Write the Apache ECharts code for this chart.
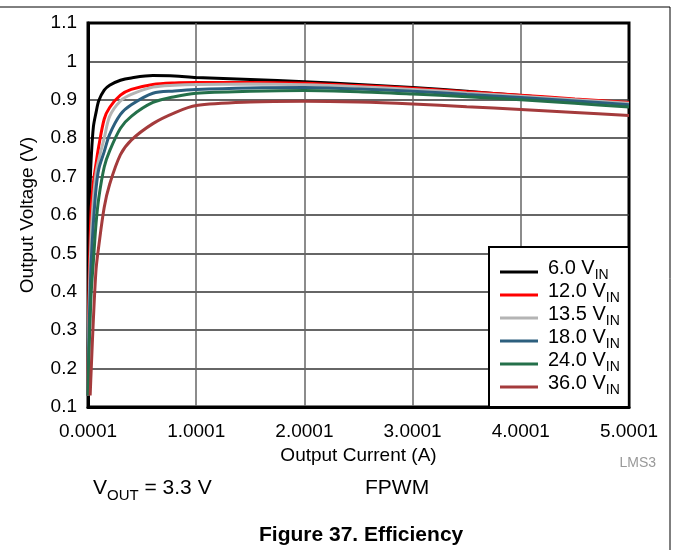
<!DOCTYPE html>
<html>
<head>
<meta charset="utf-8">
<script src="https://cdn.jsdelivr.net/npm/echarts@6/dist/echarts.min.js"></script>
<style>
  html, body { margin: 0; padding: 0; background: #fff; }
  #chart { width: 673px; height: 557px; }
</style>
</head>
<body>
<div id="chart"></div>
<script>
// Output current (A)
const currents = [0.0001, 0.005, 0.01, 0.02, 0.03, 0.05, 0.075, 0.1, 0.15, 0.2, 0.3, 0.4, 0.6, 0.8, 1.0, 1.5, 2.0, 2.5, 3.0, 3.5, 4.0, 4.5, 5.0];
// Series names (input voltage)
const seriesNames = ['6.0', '12.0', '13.5', '18.0', '24.0', '36.0'];
// Output values per input voltage
const vin6_0  = [0.13, 0.40, 0.55, 0.68, 0.75, 0.83, 0.868, 0.898, 0.925, 0.938, 0.951, 0.957, 0.963, 0.962, 0.958, 0.953, 0.947, 0.940, 0.932, 0.922, 0.911, 0.900, 0.889];
const vin12_0 = [0.13, 0.30, 0.42, 0.54, 0.62, 0.685, 0.735, 0.78, 0.85, 0.88, 0.912, 0.927, 0.940, 0.944, 0.945, 0.945, 0.943, 0.937, 0.930, 0.921, 0.912, 0.902, 0.893];
const vin13_5 = [0.13, 0.27, 0.36, 0.47, 0.55, 0.64, 0.71, 0.745, 0.80, 0.857, 0.897, 0.914, 0.933, 0.938, 0.940, 0.941, 0.939, 0.934, 0.927, 0.918, 0.909, 0.900, 0.891];
const vin18_0 = [0.13, 0.22, 0.30, 0.40, 0.48, 0.58, 0.67, 0.72, 0.765, 0.81, 0.862, 0.887, 0.917, 0.923, 0.927, 0.931, 0.932, 0.928, 0.922, 0.914, 0.906, 0.897, 0.887];
const vin24_0 = [0.13, 0.19, 0.25, 0.33, 0.40, 0.48, 0.58, 0.645, 0.725, 0.767, 0.826, 0.857, 0.893, 0.908, 0.917, 0.922, 0.924, 0.921, 0.915, 0.908, 0.900, 0.891, 0.881];
const vin36_0 = [null, null, null, 0.13, 0.20, 0.33, 0.46, 0.52, 0.62, 0.68, 0.757, 0.795, 0.838, 0.866, 0.885, 0.894, 0.896, 0.894, 0.889, 0.882, 0.875, 0.867, 0.859];
// Tick labels
const xTickLabels = ['0.0001', '1.0001', '2.0001', '3.0001', '4.0001', '5.0001'];
const yTickLabels = ['0.1', '0.2', '0.3', '0.4', '0.5', '0.6', '0.7', '0.8', '0.9', '1', '1.1'];

const seriesValues = [vin6_0, vin12_0, vin13_5, vin18_0, vin24_0, vin36_0];
const colors = ['#000000', '#ff0000', '#b4b4b4', '#2c5f7e', '#24704a', '#a43b3c'];
const FONT = '"Liberation Sans", Arial, sans-serif';
const FS = 19;

const chart = echarts.init(document.getElementById('chart'), null, { renderer: 'canvas' });

const series = seriesNames.map((name, i) => ({
  name: name,
  type: 'line',
  data: currents.map((c, j) => [c, seriesValues[i][j]]),
  showSymbol: false,
  smooth: 0.3,
  connectNulls: false,
  lineStyle: { color: colors[i], width: 3 },
  itemStyle: { color: colors[i] },
  z: 3
}));

function subRich(big, small) {
  return {
    g: { width: 5 },
    n: { fontSize: big, lineHeight: 16, padding: [4, 0, 4, 0], verticalAlign: 'bottom', fill: '#000', color: '#000', fontFamily: FONT },
    s: { fontSize: small, lineHeight: 12, verticalAlign: 'bottom', fill: '#000', color: '#000', fontFamily: FONT }
  };
}

const option = {
  animation: false,
  backgroundColor: '#fff',
  textStyle: { fontFamily: FONT },
  grid: {
    left: 88, right: 44, top: 23, bottom: 150,
    show: true, borderColor: '#000', borderWidth: 3, backgroundColor: 'transparent'
  },
  xAxis: {
    type: 'value', min: 0, max: 5, interval: 1,
    name: 'Output Current (A)', nameLocation: 'middle', nameGap: 33,
    nameTextStyle: { fontSize: FS, color: '#000', fontFamily: FONT },
    axisLine: { show: true, lineStyle: { color: '#000', width: 3 } },
    axisTick: { show: false },
    axisLabel: {
      fontSize: FS, color: '#000', margin: 15, fontFamily: FONT,
      formatter: (v) => xTickLabels[Math.round(v)]
    },
    splitLine: { show: true, showMinLine: false, showMaxLine: false, lineStyle: { color: '#666', width: 1.5 } }
  },
  yAxis: {
    type: 'value', min: 0.1, max: 1.1, interval: 0.1,
    name: 'Output Voltage (V)', nameLocation: 'middle', nameGap: 51,
    nameTextStyle: { fontSize: FS, color: '#000', fontFamily: FONT },
    axisLine: { show: true, lineStyle: { color: '#000', width: 3 } },
    axisTick: { show: false },
    axisLabel: {
      fontSize: FS, color: '#000', margin: 11, fontFamily: FONT,
      formatter: (v) => yTickLabels[Math.round(v * 10) - 1]
    },
    splitLine: { show: true, showMinLine: false, showMaxLine: false, lineStyle: { color: '#333', width: 1.5 } }
  },
  legend: {
    data: seriesNames,
    orient: 'vertical',
    left: 489, top: 247,
    padding: [7, 9, 10, 11],
    itemGap: -5,
    itemWidth: 38, itemHeight: 3,
    icon: 'rect',
    backgroundColor: '#fff',
    borderColor: '#000', borderWidth: 2,
    borderRadius: 0,
    formatter: (name) => '{g|}{n|' + name + ' V}{s|IN}',
    textStyle: {
      fontFamily: FONT, color: '#000', fontSize: 20, lineHeight: 20,
      rich: subRich(20, 14)
    }
  },
  graphic: [
    { type: 'line', shape: { x1: 0, y1: 7, x2: 670, y2: 7 }, style: { stroke: '#000', lineWidth: 1 } },
    { type: 'line', shape: { x1: 670, y1: 7, x2: 670, y2: 550 }, style: { stroke: '#000', lineWidth: 1 } },
    { type: 'text', right: 17, top: 456, style: { text: 'LMS3', fontSize: 14, fill: '#999', fontFamily: FONT } },
    {
      type: 'text', left: 93, top: 474,
      style: { text: '{n|V}{s|OUT}{n| = 3.3 V}', fontFamily: FONT, rich: subRich(21, 15) }
    },
    { type: 'text', left: 365, top: 478, style: { text: 'FPWM', fontSize: 21, fill: '#000', fontFamily: FONT } },
    { type: 'text', left: 259, top: 525, style: { text: 'Figure 37. Efficiency', fontSize: 21, fontWeight: 'bold', fill: '#000', fontFamily: FONT } }
  ],
  series: series
};

chart.setOption(option);
</script>
</body>
</html>
